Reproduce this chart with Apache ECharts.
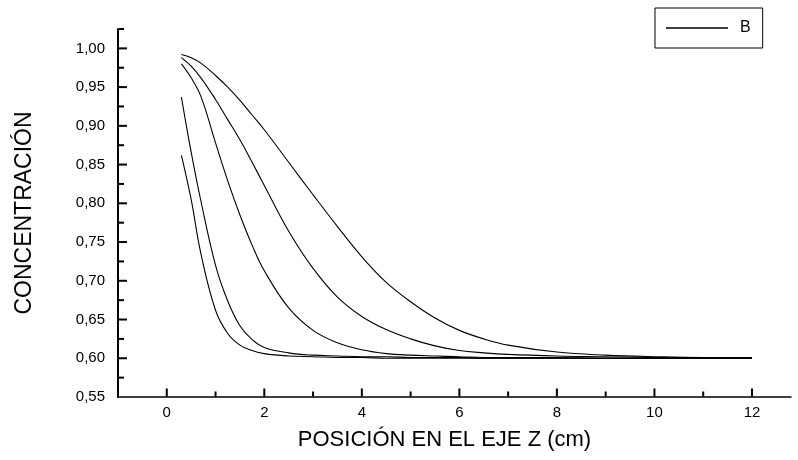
<!DOCTYPE html>
<html>
<head>
<meta charset="utf-8">
<script src="https://cdn.jsdelivr.net/npm/echarts@6/dist/echarts.min.js"></script>
<style>
  html, body { margin: 0; padding: 0; background: #fff; }
  #chart { width: 798px; height: 460px; }
</style>
</head>
<body>
<div id="chart"></div>
<script>
// Axial position (cm) shared by every profile
const zPos = [0.3, 0.5, 0.7, 1.0, 1.25, 1.5, 1.75, 2.0, 2.5, 3.0, 3.5, 4.0, 4.5, 5.0, 5.5, 6.0, 6.5, 7.0, 8.0, 9.0, 10.0, 11.0, 12.0];

// Concentration profiles along the column
const profile1 = [0.992, 0.988, 0.981, 0.965, 0.950, 0.933, 0.914, 0.895, 0.853, 0.811, 0.770, 0.731, 0.698, 0.673, 0.652, 0.636, 0.625, 0.617, 0.608, 0.604, 0.602, 0.601, 0.601];
const profile2 = [0.988, 0.977, 0.962, 0.934, 0.908, 0.882, 0.853, 0.823, 0.764, 0.716, 0.679, 0.654, 0.637, 0.625, 0.616, 0.610, 0.607, 0.605, 0.603, 0.602, 0.601, 0.601, 0.601];
const profile3 = [0.980, 0.962, 0.938, 0.878, 0.829, 0.785, 0.746, 0.713, 0.665, 0.636, 0.620, 0.611, 0.606, 0.604, 0.603, 0.602, 0.601, 0.601, 0.601, 0.600, 0.600, 0.600, 0.600];
const profile4 = [0.937, 0.866, 0.803, 0.720, 0.674, 0.642, 0.624, 0.614, 0.607, 0.604, 0.603, 0.602, 0.602, 0.601, 0.601, 0.601, 0.600, 0.600, 0.600, 0.600, 0.600, 0.600, 0.600];
const profile5 = [0.862, 0.805, 0.735, 0.662, 0.632, 0.617, 0.610, 0.606, 0.603, 0.602, 0.601, 0.601, 0.600, 0.600, 0.600, 0.600, 0.600, 0.600, 0.600, 0.600, 0.600, 0.600, 0.600];

// Tick label values
const xLabels = [0, 2, 4, 6, 8, 10, 12];
const yLabels = [0.55, 0.60, 0.65, 0.70, 0.75, 0.80, 0.85, 0.90, 0.95, 1.00];

// Tick mark values (inward ticks along both axes)
const xMajorTicks = [0, 2, 4, 6, 8, 10, 12];
const xMinorTicks = [1, 3, 5, 7, 9, 11];
const yMajorTicks = [0.60, 0.65, 0.70, 0.75, 0.80, 0.85, 0.90, 0.95, 1.00];
const yMinorTicks = [0.575, 0.625, 0.675, 0.725, 0.775, 0.825, 0.875, 0.925, 0.975, 1.025];

const seriesName = 'B';
const FONT = '"Liberation Sans", Arial, sans-serif';
const profiles = [profile1, profile2, profile3, profile4, profile5];

const X_MIN = -1, X_MAX = 12.8;
const Y_MIN = 0.55, Y_MAX = 1.025;

const chart = echarts.init(document.getElementById('chart'), null, { renderer: 'canvas' });

// Short bars anchored on an axis, pointing into the plot
function tickSeries(data, size, offset) {
  return {
    type: 'scatter',
    silent: true,
    clip: false,
    symbol: 'rect',
    symbolSize: size,
    symbolOffset: offset,
    itemStyle: { color: '#000', opacity: 1 },
    z: 5,
    zlevel: 0,
    data: data
  };
}

const series = profiles.map(p => ({
  name: seriesName,
  type: 'line',
  symbol: 'none',
  smooth: 0.4,
  lineStyle: { color: '#000', width: 1.1 },
  itemStyle: { color: '#000' },
  data: zPos.map((z, i) => [z, p[i]])
}));

series.push(
  tickSeries(xMajorTicks.map(v => [v, Y_MIN]), [2, 8], [0, -4.5]),
  tickSeries(xMinorTicks.map(v => [v, Y_MIN]), [2, 5], [0, -3]),
  tickSeries(yMajorTicks.map(v => [X_MIN, v]), [8, 2], [5, 0]),
  tickSeries(yMinorTicks.map(v => [X_MIN, v]), [5, 2], [3.5, 0])
);

chart.setOption({
  animation: false,
  backgroundColor: '#ffffff',
  grid: { left: 118, right: 7, top: 29, bottom: 63 },
  legend: {
    data: [seriesName],
    left: 655,
    top: 8,
    orient: 'horizontal',
    icon: 'rect',
    itemWidth: 62,
    itemHeight: 1.5,
    itemGap: 0,
    padding: [12, 12, 12, 11],
    borderColor: '#000',
    borderWidth: 1,
    itemStyle: { color: '#000' },
    textStyle: { color: '#000', fontSize: 16, fontFamily: FONT, padding: [0, 0, 0, 7] },
    selectedMode: false
  },
  xAxis: {
    type: 'value', min: X_MIN, max: X_MAX,
    splitLine: { show: false },
    name: 'POSICIÓN EN EL EJE Z (cm)',
    nameLocation: 'middle',
    nameGap: 32,
    nameTextStyle: { color: '#000', fontSize: 22, fontFamily: FONT, padding: [0, 20, 0, 0] },
    axisLine: { show: true, onZero: false, lineStyle: { color: '#000', width: 1.5 } },
    axisTick: { show: false },
    axisLabel: { show: true, margin: 8, customValues: xLabels, color: '#000', fontSize: 15, fontFamily: FONT }
  },
  yAxis: {
    type: 'value', min: Y_MIN, max: Y_MAX,
    splitLine: { show: false },
    name: 'CONCENTRACIÓN',
    nameLocation: 'middle',
    nameGap: 82,
    nameRotate: 90,
    nameTextStyle: { color: '#000', fontSize: 23, fontFamily: FONT },
    axisLine: { show: true, onZero: false, lineStyle: { color: '#000', width: 2 } },
    axisTick: { show: false },
    axisLabel: {
      show: true, margin: 13, customValues: yLabels, color: '#000', fontSize: 15, fontFamily: FONT,
      formatter: v => v.toFixed(2).replace('.', ',')
    }
  },
  series: series
});
</script>
</body>
</html>
